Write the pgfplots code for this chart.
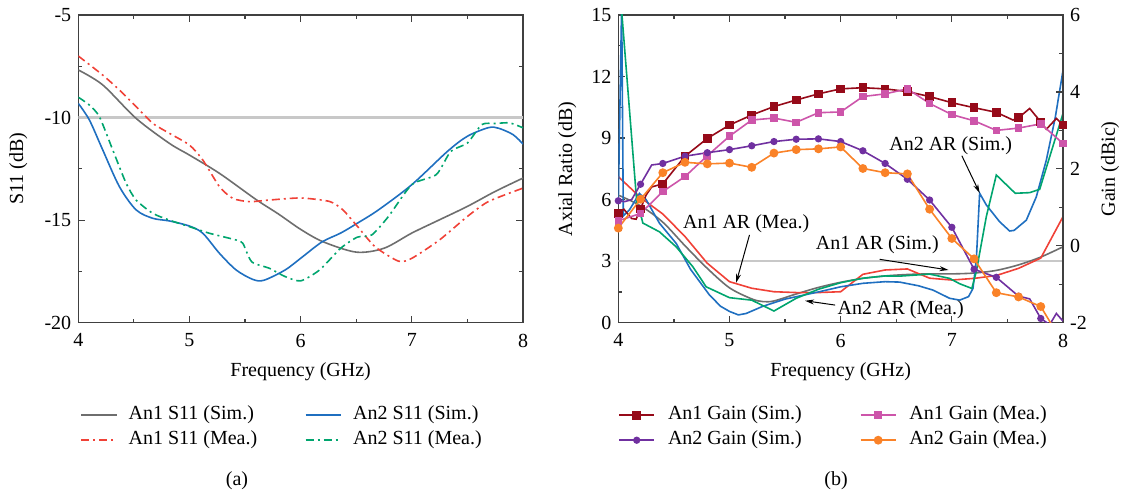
\documentclass[border=0pt]{standalone}
\usepackage{fontspec}
\setmainfont{Liberation Serif}
\usepackage{pgfplots}
\pgfplotsset{compat=1.18}
\usetikzlibrary{arrows.meta}
\definecolor{cgray}{RGB}{110,110,110}
\definecolor{cblue}{RGB}{31,111,192}
\definecolor{cred}{RGB}{240,65,55}
\definecolor{cgreen}{RGB}{0,165,110}
\definecolor{cdred}{RGB}{150,10,25}
\definecolor{cpink}{RGB}{205,85,170}
\definecolor{cpurple}{RGB}{112,48,160}
\definecolor{corange}{RGB}{250,130,40}
\definecolor{cref}{RGB}{200,200,200}

\pgfplotsset{
  base/.style={
    scale only axis, width=222.35bp, height=153.85bp,
    xmin=4, xmax=8, xtick={4,5,6,7,8}, minor x tick num=1,
    tick align=inside,
    axis line style={black!75, line width=0.7bp},
    every tick/.style={black!75, line width=0.6bp},
    major tick length=3.5bp, minor tick length=2bp,
    /pgf/number format/assume math mode=true,
    xlabel={Frequency (GHz)},
    xlabel style={at={(axis description cs:0.5,-0.1592)}, anchor=center},
    xticklabel style={yshift=-2bp},
    legend cell align=left,
    legend image code/.code={\draw[##1, mark indices={2}] plot coordinates {(0bp,0bp) (8.75bp,0bp) (17.5bp,0bp)};},
    every axis plot/.append style={line width=0.8bp},
  },
  dashdot/.style={dash pattern=on 4bp off 2bp on 1bp off 2bp},
}

\begin{document}
\fontsize{10bp}{12bp}\selectfont
\begin{tikzpicture}[x=1bp,y=1bp]
\useasboundingbox (0,0) rectangle (563,247);

% ---------------- (a) S11 ----------------
\begin{axis}[base, at={(39.15bp,85.65bp)}, anchor=south west,
  ymin=-20, ymax=-5, ytick={-20,-15,-10,-5}, yticklabels={-20,-15,-10,-5},
  minor y tick num=1,
  ylabel={S11 (dB)},
  ylabel style={at={(axis description cs:-0.1349,0.5)}, anchor=center},
  legend columns=2,
  legend style={draw=none, fill=none, at={(axis description cs:0,0)}, anchor=north west,
    xshift=0.85bp, yshift=-41.4bp, inner sep=0pt,
    nodes={inner sep=0pt, text height=7bp, text depth=2.3bp},
    row sep=3.2bp,
    /tikz/every odd column/.append style={column sep=5.8bp},
    /tikz/every even column/.append style={column sep=23.8bp}},
]
\addplot[cref, line width=1.1bp, forget plot] coordinates {(4,-10) (8,-10)};

\addplot[cgray, smooth, tension=0.5] coordinates {
(4.0,-7.68) (4.22,-8.41) (4.52,-10.04) (4.82,-11.26) (5.0,-11.83) (5.27,-12.72)
(5.6,-14.0) (5.8,-14.7) (6.0,-15.45) (6.2,-16.05) (6.5,-16.56) (6.75,-16.37)
(7.0,-15.63) (7.25,-14.98) (7.5,-14.33) (7.75,-13.6) (8.0,-12.95)};
\addlegendentry{An1 S11 (Sim.)}

\addplot[cblue, smooth, tension=0.5] coordinates {
(4.0,-9.31) (4.1,-10.12) (4.22,-11.58) (4.37,-13.37) (4.52,-14.5) (4.67,-14.91)
(4.82,-15.04) (5.0,-15.29) (5.12,-15.64) (5.27,-16.62) (5.42,-17.43) (5.57,-17.89)
(5.67,-17.93) (5.86,-17.43) (6.0,-16.86) (6.19,-16.07) (6.36,-15.63) (6.51,-15.15)
(6.7,-14.5) (7.0,-13.27) (7.32,-11.65) (7.5,-10.91) (7.69,-10.49) (7.78,-10.52)
(7.91,-10.83) (8.0,-11.29)};
\addlegendentry{An2 S11 (Sim.)}

\addplot[cred, dashdot, smooth, tension=0.4] coordinates {
(4.0,-7.0) (4.22,-7.93) (4.37,-8.66) (4.52,-9.47) (4.67,-10.28) (4.82,-10.77)
(5.0,-11.34) (5.12,-12.07) (5.27,-13.37) (5.39,-13.94) (5.54,-14.1) (5.72,-14.02)
(6.0,-13.92) (6.26,-14.09) (6.38,-14.5) (6.51,-15.3) (6.67,-16.3) (6.88,-17.0)
(7.0,-16.86) (7.25,-15.96) (7.5,-14.82) (7.69,-14.09) (8.0,-13.44)};
\addlegendentry{An1 S11 (Mea.)}

\addplot[cgreen, dashdot, smooth, tension=0.4] coordinates {
(4.0,-9.01) (4.1,-9.39) (4.19,-9.96) (4.31,-11.58) (4.43,-13.2) (4.52,-14.02)
(4.67,-14.67) (4.82,-15.0) (5.0,-15.32) (5.18,-15.64) (5.42,-15.97) (5.48,-16.13)
(5.56,-17.03) (5.72,-17.35) (5.86,-17.75) (6.0,-17.96) (6.17,-17.43) (6.36,-16.37)
(6.51,-15.83) (6.64,-15.72) (6.79,-14.82) (7.0,-13.27) (7.22,-12.78) (7.35,-11.65)
(7.5,-11.24) (7.63,-10.34) (7.75,-10.29) (7.88,-10.26) (8.0,-10.5)};
\addlegendentry{An2 S11 (Mea.)}
\end{axis}

% ---------------- (b) AR ----------------
\begin{axis}[base, at={(309.15bp,85.65bp)}, anchor=south west,
  ymin=0, ymax=15, ytick={0,3,6,9,12,15}, yticklabels={0,3,6,9,12,15},
  minor y tick num=1, ytick pos=left,
  ylabel={Axial Ratio (dB)},
  ylabel style={at={(axis description cs:-0.1147,0.5)}, anchor=center},
]
\addplot[cref, line width=1.1bp] coordinates {(4,3) (8,3)};

\addplot[cgray, smooth, tension=0.5] coordinates {
(4.0,6.22) (4.2,5.7) (4.4,4.9) (4.6,3.75) (4.8,2.65) (5.0,1.7) (5.2,1.16) (5.3,1.03)
(5.4,1.06) (5.6,1.4) (5.8,1.72) (6.0,1.97) (6.2,2.16) (6.4,2.28) (6.6,2.35) (6.8,2.38)
(7.0,2.38) (7.2,2.42) (7.4,2.55) (7.6,2.82) (7.8,3.2) (8.0,3.7)};

\addplot[cred] coordinates {
(4.0,7.12) (4.2,6.1) (4.4,5.3) (4.6,4.2) (4.8,2.9) (5.0,2.0) (5.2,1.68) (5.4,1.51)
(5.6,1.47) (5.8,1.47) (6.0,1.51) (6.2,2.36) (6.4,2.57) (6.6,2.62) (6.8,2.17)
(7.0,2.08) (7.2,2.16) (7.4,2.3) (7.6,2.65) (7.8,3.15) (8.0,5.17)};

\addplot[cblue] coordinates {
(4.0,5.9) (4.03,15.5) (4.045,5.2) (4.1,5.5) (4.19,6.3) (4.25,6.0) (4.37,4.85)
(4.52,3.87) (4.65,2.6) (4.82,1.35) (4.92,0.8) (5.0,0.55) (5.08,0.38) (5.15,0.45)
(5.3,0.8) (5.5,1.15) (5.8,1.5) (6.0,1.75) (6.2,1.92) (6.4,2.0) (6.53,1.98) (6.7,1.8)
(6.83,1.59) (6.98,1.19) (7.07,1.1) (7.15,1.27) (7.19,1.67) (7.22,3.05) (7.25,6.31)
(7.31,5.74) (7.43,4.92) (7.52,4.47) (7.56,4.5) (7.67,5.0) (7.76,6.14) (7.85,7.93)
(7.93,10.0) (8.0,12.3)};

\addplot[cgreen] coordinates {
(4.03,15.2) (4.17,5.6) (4.21,5.1) (4.22,4.86) (4.37,4.43) (4.52,3.7) (4.67,2.73)
(4.79,1.75) (5.0,1.22) (5.2,1.1) (5.4,0.57) (5.6,1.19) (5.8,1.63) (6.0,1.95)
(6.2,2.17) (6.4,2.28) (6.53,2.27) (6.8,2.37) (6.98,2.16) (7.07,1.9) (7.18,1.67)
(7.22,2.5) (7.31,5.17) (7.4,7.2) (7.57,6.31) (7.7,6.34) (7.79,6.5) (8.0,10.2)};

\node at (axis cs:5.15,4.85) {An1 AR (Mea.)};
\draw[-{Stealth[length=4.5bp,width=2.5bp]}, line width=0.5bp] (axis cs:5.18,4.28) -- (axis cs:5.06,1.95);
\node at (axis cs:6.33,3.8) {An1 AR (Sim.)};
\draw[-{Stealth[length=4.5bp,width=2.5bp]}, line width=0.5bp] (axis cs:6.35,3.09) -- (axis cs:6.97,2.57);
\node at (axis cs:6.99,8.65) {An2 AR (Sim.)};
\draw[-{Stealth[length=4.5bp,width=2.5bp]}, line width=0.5bp] (axis cs:7.09,8.14) -- (axis cs:7.25,6.32);
\node at (axis cs:6.54,0.65) {An2 AR (Mea.)};
\draw[-{Stealth[length=4.5bp,width=2.5bp]}, line width=0.5bp] (axis cs:5.95,0.86) -- (axis cs:5.68,1.07);
\end{axis}

% ---------------- (b) Gain ----------------
\begin{axis}[base, at={(309.15bp,85.65bp)}, anchor=south west,
  axis x line=none, axis y line*=right, xlabel={},
  ymin=-2, ymax=6, ytick={-2,0,2,4,6}, yticklabels={-2,0,2,4,6},
  minor y tick num=1,
  ylabel={Gain (dBic)},
  ylabel style={at={(axis description cs:1.1057,0.5)}, anchor=center},
  legend columns=2,
  legend style={draw=none, fill=none, at={(axis description cs:0,0)}, anchor=north west,
    xshift=-0.15bp, yshift=-41.4bp, inner sep=0pt,
    nodes={inner sep=0pt, text height=7bp, text depth=2.3bp},
    row sep=3.2bp,
    /tikz/every odd column/.append style={column sep=6.5bp},
    /tikz/every even column/.append style={column sep=29bp}},
]
\addplot[cdred, mark=square*, mark size=1.75bp, mark options={solid},
  mark indices={1,5,8,9,10,11,12,13,14,15,16,17,18,19,20,21,22,23,25,27,30}] coordinates {
(4.0,0.84) (4.05,0.95) (4.12,0.71) (4.16,0.69) (4.2,0.96) (4.25,1.32) (4.3,1.53)
(4.4,1.61) (4.6,2.33) (4.8,2.79) (5.0,3.14) (5.2,3.40) (5.4,3.62) (5.6,3.79)
(5.8,3.95) (6.0,4.08) (6.2,4.11) (6.4,4.08) (6.6,4.01) (6.8,3.88) (7.0,3.72)
(7.2,3.59) (7.4,3.47) (7.55,3.27) (7.6,3.33) (7.7,3.57) (7.8,3.22) (7.85,3.03)
(7.94,3.31) (8.0,3.14)};
\addlegendentry{An1 Gain (Sim.)}

\addplot[cpink, mark=square*, mark size=1.5bp, mark options={solid}] coordinates {
(4.0,0.65) (4.2,0.84) (4.4,1.41) (4.6,1.80) (4.8,2.34) (5.0,2.85) (5.2,3.27)
(5.4,3.32) (5.6,3.21) (5.8,3.46) (6.0,3.48) (6.2,3.88) (6.4,3.95) (6.6,4.08)
(6.8,3.70) (7.0,3.41) (7.2,3.25) (7.4,3.00) (7.6,3.06) (7.8,3.17) (8.0,2.66)};
\addlegendentry{An1 Gain (Mea.)}

\addplot[cpurple, mark=*, mark size=1.4bp, mark options={solid},
  mark indices={1,4,6,7,8,9,10,11,12,13,14,15,16,17,18,19,20,21,22,24,27}] coordinates {
(4.0,1.17) (4.06,1.15) (4.12,1.2) (4.2,1.60) (4.3,2.10) (4.4,2.14) (4.6,2.33)
(4.8,2.42) (5.0,2.50) (5.2,2.60) (5.4,2.71) (5.6,2.77) (5.8,2.78) (6.0,2.71)
(6.2,2.47) (6.4,2.14) (6.6,1.73) (6.8,1.19) (7.0,0.48) (7.2,-0.61) (7.4,-0.82)
(7.6,-1.31) (7.7,-1.38) (7.8,-1.89) (7.88,-2.05) (7.94,-1.76) (8.0,-1.96)};
\addlegendentry{An2 Gain (Sim.)}

\addplot[corange, mark=*, mark size=1.8bp, mark options={solid},
  mark indices={1,2,3,4,5,6,7,8,9,10,11,12,13,14,15,16,17,18,19,20}] coordinates {
(4.0,0.46) (4.2,1.21) (4.4,1.90) (4.6,2.17) (4.8,2.13) (5.0,2.15) (5.2,2.04)
(5.4,2.41) (5.6,2.50) (5.8,2.52) (6.0,2.57) (6.2,2.01) (6.4,1.90) (6.6,1.87)
(6.8,0.95) (7.0,0.19) (7.2,-0.34) (7.4,-1.22) (7.6,-1.33) (7.8,-1.58) (7.95,-2.3)};
\addlegendentry{An2 Gain (Mea.)}
\end{axis}

\node at (118.5,6.5) {(a)};
\node at (418,6.5) {(b)};
\end{tikzpicture}
\end{document}
